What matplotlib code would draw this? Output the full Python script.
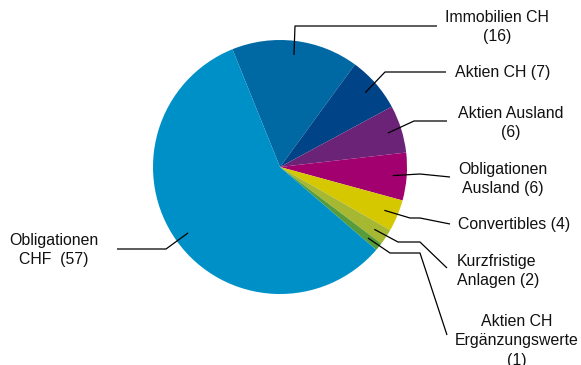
import numpy as np
import matplotlib
matplotlib.use("Agg")
import matplotlib.pyplot as plt

plt.rcParams['font.family'] = ['Liberation Sans', 'DejaVu Sans']

# data
labels = ["Immobilien CH\n(16)", "Aktien CH (7)", "Aktien Ausland\n(6)",
          "Obligationen\nAusland (6)", "Convertibles (4)", "Kurzfristige\nAnlagen (2)",
          "Aktien CH\nErgänzungswerte\n(1)", "Obligationen\nCHF  (57)"]
values = [16, 7, 6, 6, 4, 2, 1, 57]
colors = ["#0068a3", "#004487", "#6b2377", "#a2006e", "#d5c700",
          "#a6b831", "#589c3a", "#0090c8"]

W, H = 581, 365
CX, CY, R = 280, 167, 127  # pie centre/radius in pixels (y down)

def px(x, y):
    # pixel (y down) -> axes data (y up)
    return x, H - y

# leader elbows and label anchors in pixels
elbows = [
    [(295, 26), (437, 26)],
    [(385, 72), (446, 72)],
    [(414, 121), (447, 121)],
    [(420, 174), (450, 177)],
    [(410, 218), (420, 218), (450, 224)],
    [(398, 242), (420, 242), (447, 268)],
    [(390, 253), (420, 253), (447, 335)],
    [(166, 249), (117, 249)],
]
text_pos = [(497, 27, 'center'), (455, 72, 'left'), (511, 123, 'center'),
            (503, 179, 'center'), (458, 224, 'left'), (457, 271, 'left'),
            (517, 341, 'center'), (54, 250, 'center')]

fig = plt.figure(figsize=(W / 100, H / 100), dpi=100)
ax = fig.add_axes([0, 0, 1, 1])
wedges, _ = ax.pie(values, colors=colors, startangle=112, counterclock=False,
                   center=px(CX, CY), radius=R,
                   wedgeprops=dict(linewidth=0))
ax.set_xlim(0, W)
ax.set_ylim(0, H)
ax.set_aspect('equal')
ax.axis('off')

for w, pts, (tx, ty, ha), lab in zip(wedges, elbows, text_pos, labels):
    mid = np.deg2rad((w.theta1 + w.theta2) / 2)
    sx = CX + 0.89 * R * np.cos(mid)
    sy = CY - 0.89 * R * np.sin(mid)
    xs = [sx] + [p[0] for p in pts]
    ys = [H - sy] + [H - p[1] for p in pts]
    ax.plot(xs, ys, color='black', lw=0.9, solid_capstyle='butt')
    ax.text(tx, H - ty, lab, ha=ha, va='center', multialignment=ha,
            fontsize=11.4, linespacing=1.35, color='#111111')

fig.savefig("out.png", dpi=100)
